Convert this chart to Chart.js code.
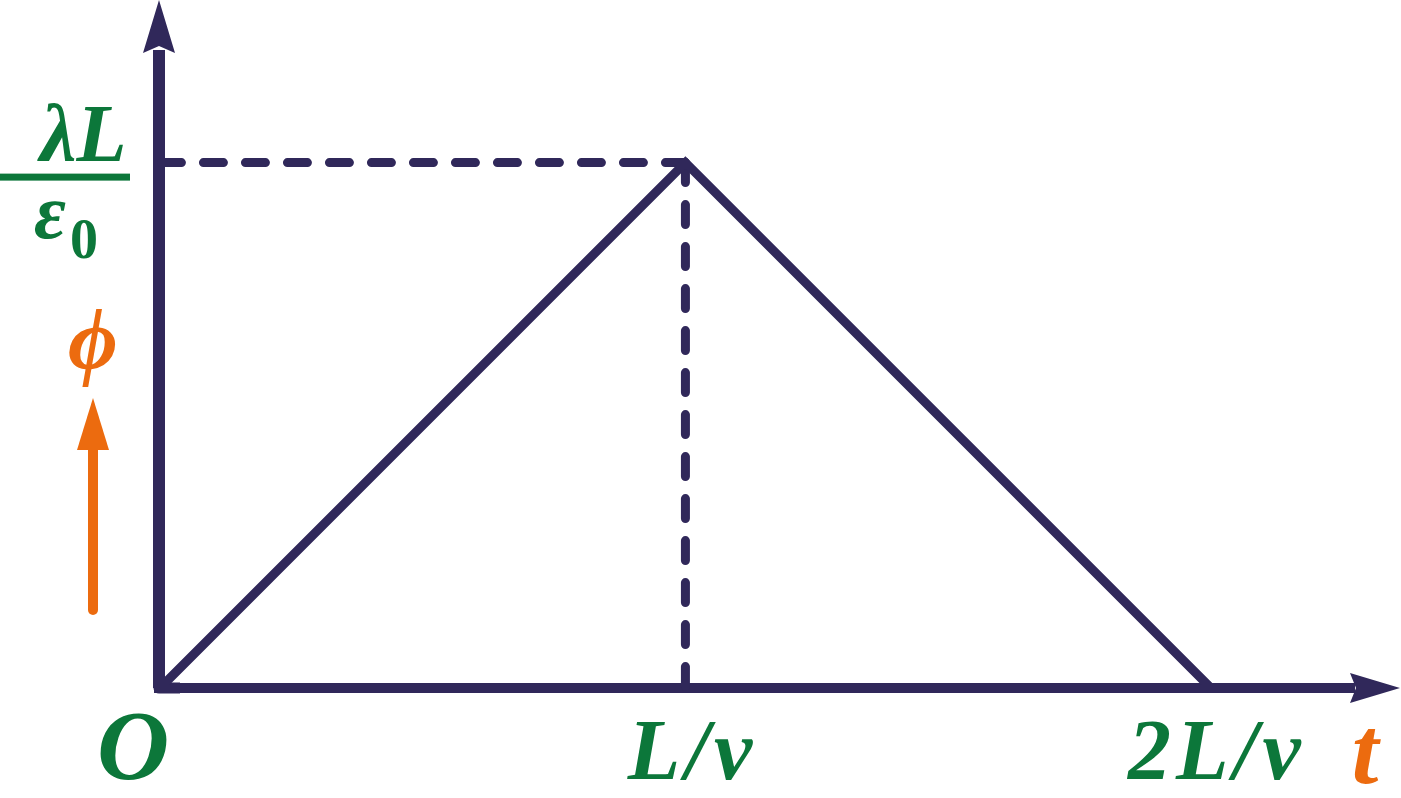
<!DOCTYPE html>
<html lang="en">
<head>
  <meta charset="UTF-8">
  <title>Potential vs time</title>
  <script src="https://cdn.jsdelivr.net/npm/chart.js"></script>
  <style>
    html, body { margin: 0; padding: 0; background: #fff; }
    #wrap { width: 1401px; height: 798px; position: relative; }
  </style>
</head>
<body>
  <div id="wrap"><canvas id="phiChart"></canvas></div>

  <script>
    // time in units of L/v, potential in units of lambda*L/eps0
    const tValues = [0, 1, 2];
    const phiValues = [0, 1, 0];
    const tickValues = [0, 1, 2];
    const tickLabels = ['O', 'L/v', '2L/v'];
    const peakT = 1;
    const peakPhi = 1;

    const navy = '#30285a';
    const green = '#0c773a';
    const orange = '#ec6b0f';
    const FONT = "'Liberation Serif', 'DejaVu Serif', serif";

    const points = tValues.map((t, i) => ({ x: t, y: phiValues[i] }));
    const guideH = [{ x: peakT, y: peakPhi }, { x: 0, y: peakPhi }];
    const guideV = [{ x: peakT, y: peakPhi }, { x: peakT, y: 0 }];

    function arrowHead(ctx, tipX, tipY, dir, len, half, notch) {
      // dir: 'up' or 'right'
      ctx.beginPath();
      if (dir === 'up') {
        ctx.moveTo(tipX, tipY);
        ctx.lineTo(tipX + half, tipY + len);
        ctx.lineTo(tipX, tipY + len - notch);
        ctx.lineTo(tipX - half, tipY + len);
      } else {
        ctx.moveTo(tipX, tipY);
        ctx.lineTo(tipX - len, tipY - half);
        ctx.lineTo(tipX - len + notch, tipY);
        ctx.lineTo(tipX - len, tipY + half);
      }
      ctx.closePath();
      ctx.fill();
    }

    const axesPlugin = {
      id: 'axesPlugin',
      beforeDatasetsDraw(chart) {
        const { ctx, chartArea, scales } = chart;
        const x0 = scales.x.getPixelForValue(0);
        const y0 = scales.y.getPixelForValue(0);
        ctx.save();
        ctx.strokeStyle = navy;
        ctx.fillStyle = navy;
        ctx.lineJoin = 'round';
        ctx.lineCap = 'butt';
        // y axis
        ctx.lineWidth = 12;
        ctx.beginPath();
        ctx.moveTo(x0 - 1, chartArea.top + 45);
        ctx.lineTo(x0 - 1, y0);
        ctx.stroke();
        // x axis
        ctx.lineWidth = 10;
        ctx.beginPath();
        ctx.moveTo(x0 - 6, y0);
        ctx.lineTo(chartArea.right - 45, y0);
        ctx.stroke();
        // corner
        ctx.beginPath();
        ctx.lineWidth = 11;
        ctx.moveTo(x0 - 1, y0 - 20);
        ctx.lineTo(x0 - 1, y0);
        ctx.lineTo(x0 + 20, y0);
        ctx.stroke();
        arrowHead(ctx, x0 - 1, chartArea.top - 5, 'up', 53, 16, 7);
        arrowHead(ctx, chartArea.right, y0, 'right', 50, 15, 6);
        ctx.restore();
      },
      afterDraw(chart) {
        const { ctx, scales } = chart;
        const y0 = scales.y.getPixelForValue(0);
        const yPeak = scales.y.getPixelForValue(peakPhi);
        ctx.save();
        ctx.textBaseline = 'alphabetic';

        // t-axis tick labels
        ctx.fillStyle = green;
        const offsets = [-27, 7, 6];
        const sizes = [100, 86, 86];
        const spacing = [0, 5, 5];
        tickValues.forEach((v, i) => {
          ctx.font = 'italic bold ' + sizes[i] + 'px ' + FONT;
          ctx.letterSpacing = spacing[i] + 'px';
          ctx.textAlign = 'center';
          ctx.fillText(tickLabels[i], scales.x.getPixelForValue(v) + offsets[i], y0 + 91);
        });
        ctx.letterSpacing = '0px';

        // lambda L / eps0
        ctx.textAlign = 'left';
        ctx.font = 'italic bold 82px ' + FONT;
        ctx.fillText('\u03BBL', 40, yPeak - 2);
        ctx.fillRect(0, yPeak + 11, 130, 7);
        ctx.font = 'italic bold 78px ' + FONT;
        ctx.fillText('\u03B5', 34, yPeak + 75);
        ctx.font = 'bold 56px ' + FONT;
        ctx.fillText('0', 70, yPeak + 95);

        // phi label and arrow
        ctx.fillStyle = orange;
        ctx.strokeStyle = orange;
        ctx.font = 'italic bold 86px ' + FONT;
        ctx.textAlign = 'center';
        ctx.fillText('\u03D5', 93, 368);
        ctx.lineWidth = 10;
        ctx.lineCap = 'round';
        ctx.beginPath();
        ctx.moveTo(93, 610);
        ctx.lineTo(93, 445);
        ctx.stroke();
        arrowHead(ctx, 93, 398, 'up', 52, 16, 0);

        // t label
        ctx.font = 'italic bold 96px ' + FONT;
        ctx.fillText('t', 1365, y0 + 95);
        ctx.restore();
      }
    };

    const ctx = document.getElementById('phiChart').getContext('2d');
    const chart = new Chart(ctx, {
      type: 'line',
      data: {
        datasets: [
          {
            data: points,
            borderColor: navy,
            borderWidth: 9,
            borderJoinStyle: 'miter',
            pointRadius: 0,
            tension: 0,
            clip: false
          },
          {
            data: guideH,
            borderColor: navy,
            borderWidth: 9,
            borderDash: [20, 22],
            borderCapStyle: 'round',
            pointRadius: 0,
            clip: false
          },
          {
            data: guideV,
            borderColor: navy,
            borderWidth: 9,
            borderDash: [20, 22],
            borderCapStyle: 'round',
            pointRadius: 0,
            clip: false
          }
        ]
      },
      options: {
        responsive: true,
        maintainAspectRatio: false,
        animation: false,
        layout: { padding: { left: 160, right: 1, top: 5, bottom: 110 } },
        scales: {
          x: { type: 'linear', min: 0, max: 2.36, display: false },
          y: { type: 'linear', min: 0, max: 1.3, display: false }
        },
        plugins: {
          legend: { display: false },
          tooltip: { enabled: false }
        }
      },
      plugins: [axesPlugin]
    });
  </script>
</body>
</html>
